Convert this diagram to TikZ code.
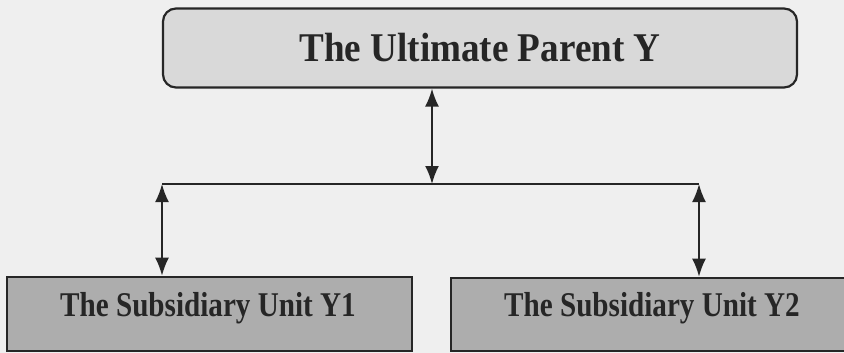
\documentclass[tikz,border=0pt]{standalone}
\usepackage{fontspec}
\setmainfont{Liberation Serif}
\usetikzlibrary{arrows.meta}

\definecolor{paper}{HTML}{EFEFEF}
\definecolor{ink}{HTML}{262626}

\tikzset{
  parentbox/.style={draw=ink,line width=2.2pt,fill=black!15,rounded corners=13pt,
    text=ink,font=\fontsize{40.8}{44}\selectfont\bfseries},
  unitbox/.style={draw=ink,line width=2.6pt,fill=black!32},
  unittext/.style={text=ink,inner sep=0pt,font=\fontsize{34.7}{38}\selectfont\bfseries},
  link/.style={draw=ink,line width=1.9pt,{Latex[length=18pt,width=14pt]}-{Latex[length=18pt,width=14pt]}},
  bar/.style={draw=ink,line width=2pt}
}

\begin{document}
\begin{tikzpicture}[x=1pt,y=-1pt]
\useasboundingbox (0,0) rectangle (844,353);
\fill[paper] (0,0) rectangle (844,353);
\clip (0,0) rectangle (844,353);

% parent company
\node[parentbox,minimum width=634pt,minimum height=79pt] (parent) at (480,48)
  {\scalebox{0.91}[1]{The Ultimate Parent Y}};

% subsidiaries
\node[unitbox,minimum width=405pt,minimum height=74pt] (unit1) at (209.5,314) {};
\node[unitbox,minimum width=409pt,minimum height=73pt] (unit2) at (655.5,314.5) {};
\node[unittext,anchor=base] (unit1text) at (208,316) {\scalebox{0.84}[1]{The Subsidiary Unit Y1}};
\node[unittext,anchor=base] (unit2text) at (652,316) {\scalebox{0.84}[1]{The Subsidiary Unit Y2}};

% connectors
\coordinate (split) at (432,184);
\coordinate (left) at (162,184);
\coordinate (right) at (699,184);

\draw[bar] (left) -- (right);
\draw[link] (parent.south -| split) -- (split);
\draw[link] (left) -- (left |- unit1.north);
\draw[link] (right) -- (right |- unit2.north);
\end{tikzpicture}
\end{document}
